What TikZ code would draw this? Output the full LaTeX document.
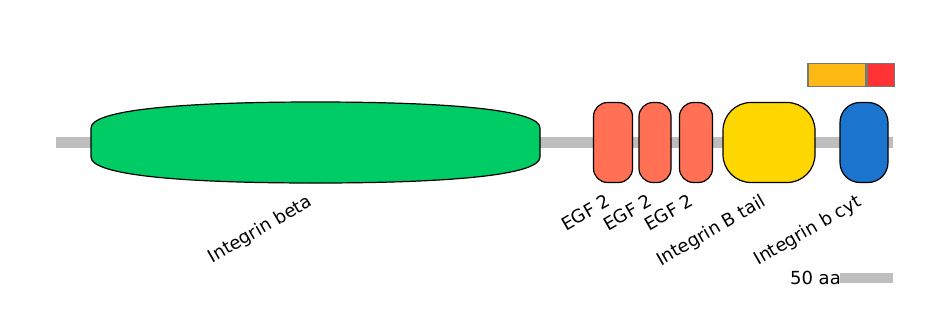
\documentclass[tikz,border=0pt]{standalone}
\usepackage{fontspec}
\setmainfont{DejaVu Sans}
\usepackage{xcolor}
\usepackage{tikz}
\usetikzlibrary{positioning,calc}

\definecolor{backbone}{HTML}{BEBEBE}
\definecolor{intbeta}{HTML}{00CC66}
\definecolor{egf}{HTML}{FF7055}
\definecolor{inttail}{HTML}{FFD700}
\definecolor{intcyt}{HTML}{1B75CF}
\definecolor{motifA}{HTML}{FFB914}
\definecolor{motifB}{HTML}{FF3333}
\definecolor{motifline}{HTML}{777777}

\begin{document}
\begin{tikzpicture}[x=1pt, y=-1pt,
    pfdom/.style={draw=black, line width=1.2pt, minimum height=80pt, inner sep=0pt},
    dlabel/.style={rotate=30, anchor=base east, inner sep=0pt, font=\fontsize{18}{21}\selectfont},
    motif/.style={draw=motifline, line width=1.5pt, minimum height=23pt, inner sep=0pt}]
  \useasboundingbox (0,0) rectangle (944,330);

  % Sequence backbone
  \coordinate (nterm) at (56,142.5);
  \coordinate (cterm) at (893,142.5);
  \draw[backbone, line width=11pt] (nterm) -- (cterm);

  % Integrin beta (long curved domain)
  \draw[pfdom, fill=intbeta] (91,128) .. controls (91,110) and (180,102) .. (315.5,102)
    .. controls (451,102) and (540,110) .. (540,128) -- (540,157)
    .. controls (540,175) and (451,183) .. (315.5,183)
    .. controls (180,183) and (91,175) .. (91,157) -- cycle;
  \coordinate (ib) at (315.5,142.5);

  % EGF repeats
  \foreach \n/\cx/\w in {1/613/39, 2/655/32, 3/696/33} {
    \node[pfdom, fill=egf, minimum width=\w pt, rounded corners=14pt] (egf\n) at (\cx,142.5) {};
  }

  % Integrin B tail and cytoplasmic domain
  \node[pfdom, fill=inttail, minimum width=92pt, rounded corners=28pt] (tail) at (769,142.5) {};
  \node[pfdom, fill=intcyt, minimum width=48pt, rounded corners=20pt] (cyt) at (864,142.5) {};

  % Labels
  \node[dlabel] (ibl) at ($(ib)+(-2,62.5)$) {Integrin beta};
  \foreach \n in {1,2,3} {
    \node[dlabel] (egf\n l) at ([xshift=-1pt, yshift=-22pt]egf\n.south) {EGF 2};
  }
  \node[dlabel] (taill) at ([xshift=-2pt, yshift=-22pt]tail.south) {Integrin B tail};
  \node[dlabel] (cytl) at ([xshift=-1pt, yshift=-22pt]cyt.south) {Integrin b cyt};

  % Motif bar
  \node[motif, fill=motifA, minimum width=58pt] (mA) at (837,75) {};
  \node[motif, fill=motifB, minimum width=27pt, right=0pt of mA] (mB) {};

  % Scale bar
  \coordinate (sbl) at (840,278);
  \coordinate (sbr) at (893,278);
  \draw[backbone, line width=10pt] (sbl) -- (sbr);
  \node[anchor=base east, inner sep=0pt, font=\fontsize{18}{21}\selectfont] (sbt) at (841,284) {50 aa};
\end{tikzpicture}
\end{document}
